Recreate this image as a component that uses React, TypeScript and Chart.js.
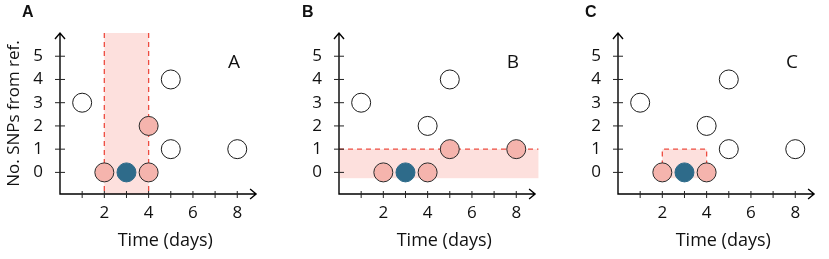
import React, { useEffect, useRef } from 'react';
import { Chart, registerables } from 'chart.js';
Chart.register(...registerables);

// ---- data ----
const panelNames = ['A', 'B', 'C'];
const xTickMarks = [1, 2, 3, 4, 5, 6, 7, 8];
const xTickLabels = [2, 4, 6, 8];
const yTickValues = [0, 1, 2, 3, 4, 5];
const xAxisTitle = 'Time (days)';
const yAxisTitle = 'No. SNPs from ref.';

const openA = [[1, 3], [5, 4], [5, 1], [8, 1]];
const pinkA = [[2, 0], [4, 0], [4, 2]];
const blueA = [[3, 0]];

const openB = [[1, 3], [4, 2], [5, 4]];
const pinkB = [[2, 0], [4, 0], [5, 1], [8, 1]];
const blueB = [[3, 0]];

const openC = [[1, 3], [4, 2], [5, 4], [5, 1], [8, 1]];
const pinkC = [[2, 0], [4, 0]];
const blueC = [[3, 0]];

// highlighted windows: [x0, x1, y0, y1]
const windowA = [2, 4, -0.93, 6.0];
const windowB = [0, 9.0, -0.25, 1];
const windowC = [2, 4, -0.25, 1];

// ---- layout / style ----
const X_MIN = 0, X_MAX = 9.5, Y_MIN = -0.93, Y_MAX = 6.0, X_ARROW = 8.85;
const FONT = "'Open Sans', 'Noto Sans', sans-serif";
const WHITE = '#ffffff';
const PINK = '#f5b4ad';
const BLUE = '#2e6b8a';
const BAND = 'rgba(252,214,210,0.75)';
const DASH = '#ee4c40';

const panels = [
  { name: panelNames[0], open: openA, pink: pinkA, blue: blueA, win: windowA, mode: 'vertical', left: 0, yWidth: 60, showY: true, letterDx: -38 },
  { name: panelNames[1], open: openB, pink: pinkB, blue: blueB, win: windowB, mode: 'horizontal', left: 277, yWidth: 62, showY: false, letterDx: -37 },
  { name: panelNames[2], open: openC, pink: pinkC, blue: blueC, win: windowC, mode: 'box', left: 556, yWidth: 62, showY: false, letterDx: -33 },
];

const toPts = (arr: number[][]) => arr.map(([x, y]) => ({ x, y }));

function Panel({ p }: { p: any }) {
  const ref = useRef<HTMLCanvasElement>(null);
  useEffect(() => {
    const canvas = ref.current!;
    const plugin = {
      id: 'decor',
      beforeDatasetsDraw(chart: any) {
        const { ctx, chartArea } = chart;
        const xs = chart.scales.x, ys = chart.scales.y;
        const [x0, x1, y0, y1] = p.win;
        const px0 = xs.getPixelForValue(x0), px1 = xs.getPixelForValue(x1);
        const py0 = ys.getPixelForValue(y0), py1 = ys.getPixelForValue(y1);
        ctx.save();
        ctx.fillStyle = BAND;
        const fx = Math.max(px0, chartArea.left + 1);
        ctx.fillRect(fx, py1, px1 - fx, py0 - py1);
        ctx.strokeStyle = DASH;
        ctx.lineWidth = 1.3;
        ctx.setLineDash([5, 4]);
        ctx.beginPath();
        if (p.mode === 'vertical') {
          ctx.moveTo(px0, py1); ctx.lineTo(px0, py0);
          ctx.moveTo(px1, py1); ctx.lineTo(px1, py0);
        } else if (p.mode === 'horizontal') {
          ctx.moveTo(px0, py1); ctx.lineTo(px1, py1);
        } else {
          const pm = ys.getPixelForValue(0.3);
          ctx.moveTo(px0, pm); ctx.lineTo(px0, py1); ctx.lineTo(px1, py1); ctx.lineTo(px1, pm);
        }
        ctx.stroke();
        ctx.setLineDash([]);
        // axes
        const ax = chartArea.left, ay = chartArea.bottom;
        const tipX = xs.getPixelForValue(X_ARROW);
        const tipY = ys.getPixelForValue(Y_MAX);
        ctx.strokeStyle = '#000';
        ctx.lineWidth = 1.4;
        ctx.beginPath();
        ctx.moveTo(ax, tipY); ctx.lineTo(ax, ay); ctx.lineTo(tipX, ay);
        ctx.moveTo(ax - 5, tipY + 6); ctx.lineTo(ax, tipY); ctx.lineTo(ax + 5, tipY + 6);
        ctx.moveTo(tipX - 6, ay - 5); ctx.lineTo(tipX, ay); ctx.lineTo(tipX - 6, ay + 5);
        ctx.stroke();
        ctx.lineWidth = 1;
        ctx.strokeStyle = '#222';
        ctx.beginPath();
        yTickValues.forEach((v) => {
          const y = ys.getPixelForValue(v);
          ctx.moveTo(ax - 5, y); ctx.lineTo(ax + 5, y);
        });
        xTickMarks.forEach((v) => {
          const x = xs.getPixelForValue(v);
          ctx.moveTo(x, ay - 3); ctx.lineTo(x, ay + 4);
        });
        ctx.stroke();
        ctx.restore();
      },
      afterDatasetsDraw(chart: any) {
        const { ctx, chartArea } = chart;
        const xs = chart.scales.x, ys = chart.scales.y;
        ctx.save();
        ctx.fillStyle = '#111';
        ctx.font = `19px ${FONT}`;
        ctx.textAlign = 'center';
        ctx.textBaseline = 'alphabetic';
        ctx.fillText(p.name, xs.getPixelForValue(7.85), ys.getPixelForValue(4.5));
        ctx.font = `bold 16px 'Liberation Sans', Arial, sans-serif`;
        ctx.textAlign = 'left';
        ctx.fillText(p.name, chartArea.left + p.letterDx, 17);
        ctx.restore();
      },
    };
    const chart = new Chart(canvas, {
      type: 'scatter',
      data: {
        datasets: [
          { data: toPts(p.open), backgroundColor: WHITE, borderColor: '#1a1a1a', borderWidth: 1, pointRadius: 9.5 },
          { data: toPts(p.pink), backgroundColor: PINK, borderColor: '#2a2a2a', borderWidth: 1, pointRadius: 9.5 },
          { data: toPts(p.blue), backgroundColor: BLUE, borderColor: BLUE, borderWidth: 1, pointRadius: 9.5 },
        ],
      },
      options: {
        animation: false,
        responsive: false,
        maintainAspectRatio: false,
        layout: { padding: { top: 33, right: 0, bottom: 0, left: 0 } },
        plugins: { legend: { display: false }, tooltip: { enabled: false } },
        scales: {
          x: {
            type: 'linear', min: X_MIN, max: X_MAX, bounds: 'data',
            grid: { display: false, drawTicks: false }, border: { display: false },
            afterBuildTicks: (s: any) => { s.ticks = xTickLabels.map((v) => ({ value: v })); },
            afterFit: (s: any) => { s.height = 65; },
            ticks: { font: { family: FONT, size: 17 }, color: '#111', padding: 9, maxRotation: 0, autoSkip: false },
            title: { display: true, text: xAxisTitle, color: '#111', font: { family: FONT, size: 18 }, padding: { top: 0, bottom: 7 } },
          },
          y: {
            type: 'linear', min: Y_MIN, max: Y_MAX, bounds: 'data',
            grid: { display: false, drawTicks: false }, border: { display: false },
            afterBuildTicks: (s: any) => { s.ticks = yTickValues.map((v) => ({ value: v })); },
            afterFit: (s: any) => { s.width = p.yWidth; },
            ticks: { font: { family: FONT, size: 17 }, color: '#111', padding: 17, autoSkip: false },
            title: { display: p.showY, text: yAxisTitle, color: '#111', font: { family: FONT, size: 17 }, padding: { top: 4, bottom: 0 } },
          },
        },
      },
      plugins: [plugin],
    } as any);
    return () => chart.destroy();
  }, [p]);
  const width = p.yWidth + 221;
  return (
    <canvas
      ref={ref}
      width={width}
      height={259}
      style={{ position: 'absolute', left: p.left, top: 0, width, height: 259 }}
    />
  );
}

export default function App() {
  return (
    <div style={{ position: 'fixed', left: 0, top: 0, width: 829, height: 259, overflow: 'hidden', background: '#fff' }}>
      {panels.map((p) => (
        <Panel key={p.name} p={p} />
      ))}
    </div>
  );
}
